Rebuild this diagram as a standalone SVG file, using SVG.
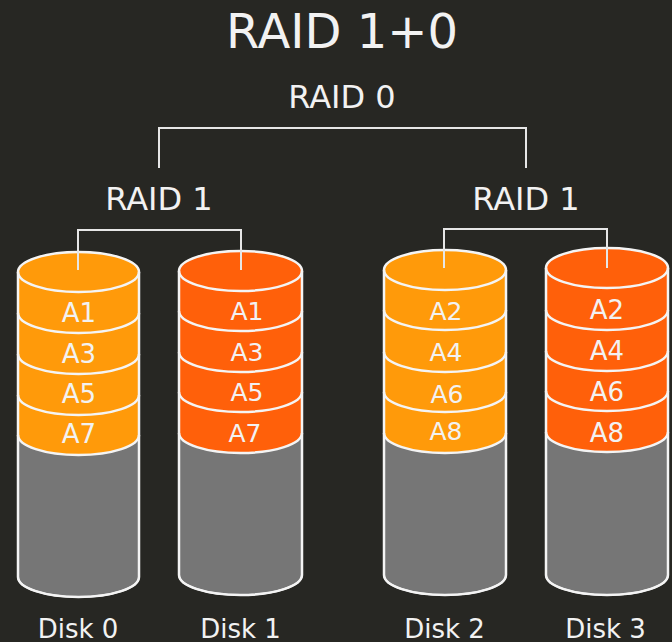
<svg xmlns="http://www.w3.org/2000/svg" width="672" height="642" viewBox="0 0 672 642">
<style>
text{font-family:"DejaVu Sans","Liberation Sans",sans-serif;fill:#f2f2f2;text-anchor:middle}
.t{font-size:48px}
.h{font-size:32px}
.l{font-size:26px}
.s{font-size:25px}
.body{fill:#767676;stroke:#f4f4f4;stroke-width:2}
.o1{fill:#ff9a0a;stroke:#ff7a00;stroke-width:1}
.o2{fill:#ff600a;stroke:#ff8a20;stroke-width:1}
.arc{fill:none;stroke:#f4f4f4;stroke-width:2.5}
.con{fill:none;stroke:#e6e6e6;stroke-width:2}
</style>
<rect width="672" height="642" fill="#272723"/>
<text class="t" x="342" y="48">RAID 1+0</text>
<text class="h" x="342" y="108">RAID 0</text>
<text class="h" x="159" y="210">RAID 1</text>
<text class="h" x="526" y="210">RAID 1</text>

<g id="disk0">
<path class="body" d="M18,272 V577 A60.5,20 0 0 0 139,577 V272 Z"/>
<path class="o1" d="M18,272 V435 A60.5,20 0 0 0 139,435 V272 Z"/>
<ellipse class="arc" cx="78.5" cy="272" rx="60.5" ry="20" style="fill:#ff9a0a"/>
<path class="arc" d="M18,313 A60.5,20 0 0 0 139,313 M18,354 A60.5,20 0 0 0 139,354 M18,395 A60.5,20 0 0 0 139,395 M18,435 A60.5,20 0 0 0 139,435"/>
<path class="arc" d="M18,272 V577 A60.5,20 0 0 0 139,577 V272"/>
<text class="l" x="79" y="322">A1</text>
<text class="l" x="79" y="363">A3</text>
<text class="l" x="79" y="403">A5</text>
<text class="l" x="79" y="443">A7</text>
<text class="l" x="78" y="638">Disk 0</text>
</g>

<g id="disk1">
<path class="body" d="M179,271 V575 A61.5,20 0 0 0 302,575 V271 Z"/>
<path class="o2" d="M179,271 V433 A61.5,20 0 0 0 302,433 V271 Z"/>
<ellipse class="arc" cx="240.5" cy="271" rx="61.5" ry="20" style="fill:#ff600a"/>
<path class="arc" d="M179,311 A61.5,20 0 0 0 302,311 M179,352 A61.5,20 0 0 0 302,352 M179,392 A61.5,20 0 0 0 302,392 M179,433 A61.5,20 0 0 0 302,433"/>
<path class="arc" d="M179,271 V575 A61.5,20 0 0 0 302,575 V271"/>
<text class="s" x="247" y="320">A1</text>
<text class="s" x="247" y="361">A3</text>
<text class="s" x="247" y="401">A5</text>
<text class="s" x="245" y="442">A7</text>
<text class="l" x="240.5" y="638">Disk 1</text>
</g>

<g id="disk2">
<path class="body" d="M384,270 V575 A61,20 0 0 0 506,575 V270 Z"/>
<path class="o1" d="M384,270 V433 A61,20 0 0 0 506,433 V270 Z"/>
<ellipse class="arc" cx="445" cy="270" rx="61" ry="20" style="fill:#ff9a0a"/>
<path class="arc" d="M384,310 A61,20 0 0 0 506,310 M384,352 A61,20 0 0 0 506,352 M384,392 A61,20 0 0 0 506,392 M384,433 A61,20 0 0 0 506,433"/>
<path class="arc" d="M384,270 V575 A61,20 0 0 0 506,575 V270"/>
<text class="s" x="446" y="320">A2</text>
<text class="s" x="446" y="361">A4</text>
<text class="s" x="447" y="403">A6</text>
<text class="s" x="446" y="440">A8</text>
<text class="l" x="444.5" y="638">Disk 2</text>
</g>

<g id="disk3">
<path class="body" d="M546,268 V575 A61,20 0 0 0 668,575 V268 Z"/>
<path class="o2" d="M546,268 V432 A61,20 0 0 0 668,432 V268 Z"/>
<ellipse class="arc" cx="607" cy="268" rx="61" ry="20" style="fill:#ff600a"/>
<path class="arc" d="M546,310 A61,20 0 0 0 668,310 M546,351 A61,20 0 0 0 668,351 M546,391 A61,20 0 0 0 668,391 M546,432 A61,20 0 0 0 668,432"/>
<path class="arc" d="M546,268 V575 A61,20 0 0 0 668,575 V268"/>
<text class="l" x="607" y="319">A2</text>
<text class="l" x="607" y="360">A4</text>
<text class="l" x="607" y="401">A6</text>
<text class="l" x="607" y="442">A8</text>
<text class="l" x="605.5" y="638">Disk 3</text>
</g>

<g id="connectors">
<path class="con" d="M159,168 V128 H526 V168"/>
<path class="con" d="M78,270 V230 H241 V270"/>
<path class="con" d="M444,268 V229 H607 V268"/>
</g>
</svg>
